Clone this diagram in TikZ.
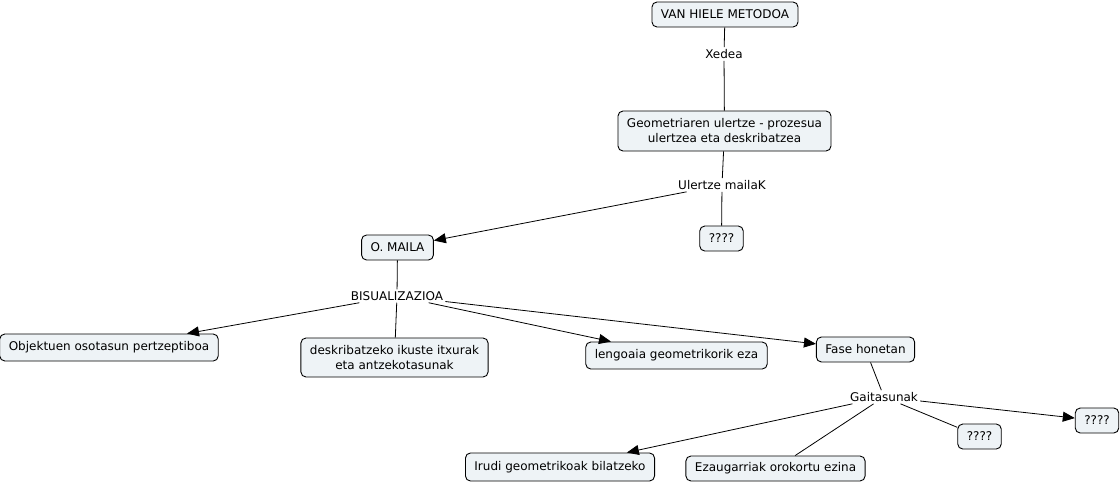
\documentclass[tikz,border=0pt]{standalone}
\usepackage{fontspec}
\setmainfont{DejaVu Sans}
\usetikzlibrary{arrows.meta}
\definecolor{boxfill}{HTML}{EEF3F6}
\begin{document}
\begin{tikzpicture}[x=1pt,y=-1pt,
  concept/.style={draw=black, line width=0.9pt, fill=boxfill, rounded corners=5pt,
    inner xsep=9pt, inner ysep=0pt, minimum height=25pt, align=center,
    font=\fontsize{12}{15}\selectfont},
  lbl/.style={inner sep=2pt, font=\fontsize{12}{15}\selectfont},
  link/.style={draw=black, line width=0.8pt},
  arr/.style={link, -{Triangle[length=12pt,width=10pt]}}]
\useasboundingbox (0,0) rectangle (1120,483);
\node[concept] (van) at (725,14.5) {VAN HIELE METODOA};
\node[lbl] (xedea) at (724,54) {Xedea};
\node[concept, minimum height=40pt] (geom) at (724.5,131) {Geometriaren ulertze - prozesua\\ulertzea eta deskribatzea};
\node[lbl] (ulertze) at (722,185) {Ulertze mailaK};
\node[concept] (q1) at (721.5,238.5) {????};
\node[concept] (omaila) at (397.5,247.5) {O. MAILA};
\node[lbl] (bis) at (397,296) {BISUALIZAZIOA};
\node[concept, minimum height=27pt] (obj) at (109,347.5) {Objektuen osotasun pertzeptiboa};
\node[concept, minimum height=39pt] (desk) at (394.5,357.5) {deskribatzeko ikuste itxurak\\eta antzekotasunak};
\node[concept, minimum height=27pt] (leng) at (676.5,355.5) {lengoaia geometrikorik eza};
\node[concept] (fase) at (865.5,349.5) {Fase honetan};
\node[lbl] (gait) at (884,397) {Gaitasunak};
\node[concept] (q2) at (1097,420.5) {????};
\node[concept] (q3) at (979.5,436.5) {????};
\node[concept, minimum height=28pt] (irudi) at (560,467) {Irudi geometrikoak bilatzeko};
\node[concept] (ezaug) at (775.5,468.5) {Ezaugarriak orokortu ezina};

\draw[link] (van) -- (xedea);
\draw[link] (xedea) -- (geom);
\draw[link] (geom) -- (ulertze);
\draw[arr] (ulertze) -- (omaila);
\draw[link] (ulertze) -- (q1);
\draw[link] (omaila) -- (bis);
\draw[arr] (bis) -- (obj);
\draw[link] (bis) -- (desk);
\draw[arr] (bis) -- (leng);
\draw[arr] (bis) -- (fase);
\draw[link] (fase) -- (gait);
\draw[arr] (gait) -- (irudi);
\draw[link] (gait) -- (ezaug);
\draw[link] (gait) -- (q3);
\draw[arr] (gait) -- (q2);
\end{tikzpicture}
\end{document}
